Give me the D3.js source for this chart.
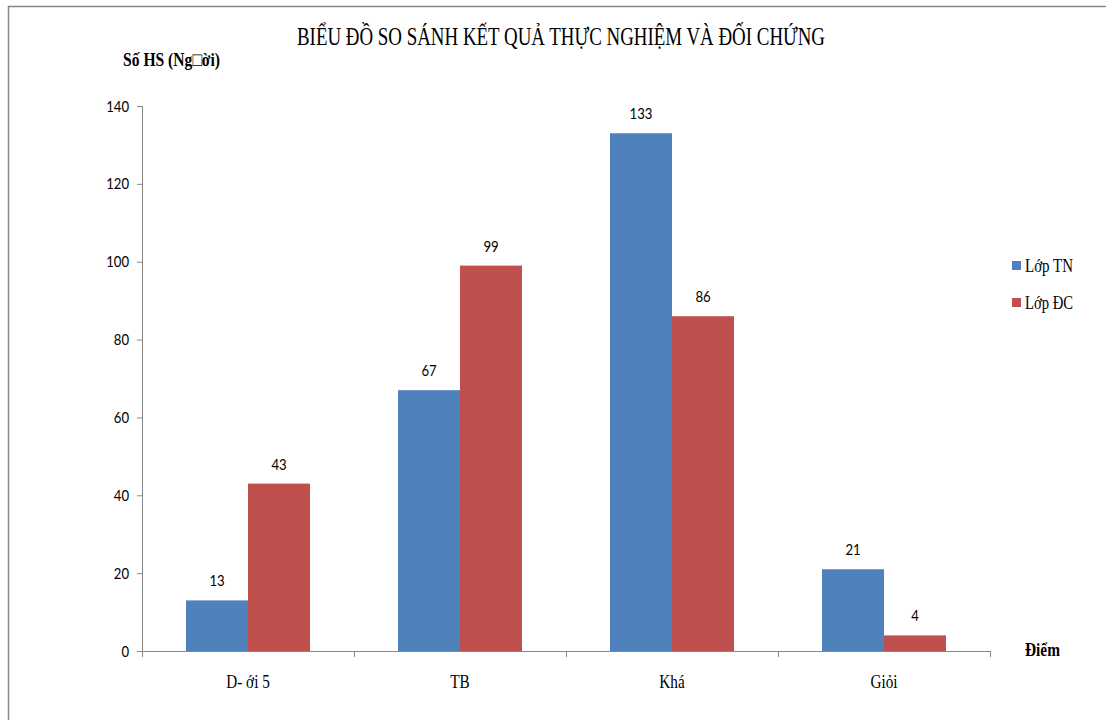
<!DOCTYPE html>
<html><head><meta charset="utf-8">
<script src="https://cdn.jsdelivr.net/npm/d3@7"></script>
<style>body{margin:0;background:#fff}svg{display:block}</style>
</head><body>
<script>
const categories = ["D- ới 5", "TB", "Khá", "Giỏi"];
const seriesNames = ["Lớp TN", "Lớp ĐC"];
const lopTN = [13, 67, 133, 21];
const lopDC = [43, 99, 86, 4];
const yTicks = [0, 20, 40, 60, 80, 100, 120, 140];
const colors = ["#4F81BD", "#C0504D"];

const W = 1106, H = 720;
const svg = d3.select("body").append("svg").attr("width", W).attr("height", H);

function condense(sel, f) {
  sel.each(function () {
    const len = this.getComputedTextLength();
    d3.select(this).attr("textLength", len * f).attr("lengthAdjust", "spacingAndGlyphs");
  });
}

// frame
svg.append("path").attr("d", `M8.5,720 V6.5 H1106`).attr("fill", "none").attr("stroke", "#888").attr("stroke-width", 1.5);

const x0 = 142, x1 = 990, yTop = 106, yBot = 651;
const x = d3.scaleBand().domain(categories).range([x0, x1]).paddingInner(0).paddingOuter(0);
const y = d3.scaleLinear().domain([0, 140]).range([yBot, yTop]);
const groupW = 124;
const xs = d3.scaleBand().domain(seriesNames).range([0, groupW]);

const serif = "'Liberation Serif','Times New Roman',serif";
const sans = "Lato,'Noto Sans',sans-serif";

// y axis
const yAxis = svg.append("g").attr("transform", `translate(${x0},0)`)
  .call(d3.axisLeft(y).tickValues(yTicks).tickSize(5).tickPadding(8));
yAxis.select(".domain").attr("stroke", "#868686").attr("d", `M0.5,${yTop}V${yBot}`);
yAxis.selectAll(".tick line").attr("stroke", "#868686");
yAxis.selectAll(".tick text").attr("font-family", sans).attr("font-size", 16).attr("fill", "#000")
  .call(condense, 0.82);

// x axis
const xAxis = svg.append("g").attr("transform", `translate(0,${yBot})`)
  .call(d3.axisBottom(x).tickSize(0).tickPadding(26));
xAxis.select(".domain").attr("stroke", "#868686").attr("d", `M${x0},0.5H${x1}`);
xAxis.selectAll(".tick text").attr("font-family", serif).attr("font-size", 19).attr("fill", "#000")
  .attr("dy", "0.6em")
  .call(condense, 0.8);
const bounds = categories.map(c => x(c)).concat([x1]);
svg.append("g").selectAll("line").data(bounds).join("line")
  .attr("x1", d => d + 0.5).attr("x2", d => d + 0.5).attr("y1", yBot).attr("y2", yBot + 6)
  .attr("stroke", "#868686");

// bars
const series = [lopTN, lopDC];
series.forEach((vals, si) => {
  const g = svg.append("g");
  g.selectAll("rect").data(vals).join("rect")
    .attr("x", (d, i) => x(categories[i]) + (x.bandwidth() - groupW) / 2 + xs(seriesNames[si]))
    .attr("width", xs.bandwidth())
    .attr("y", d => y(d))
    .attr("height", d => y(0) - y(d))
    .attr("fill", colors[si]);
  g.selectAll("text").data(vals).join("text")
    .attr("x", (d, i) => x(categories[i]) + (x.bandwidth() - groupW) / 2 + xs(seriesNames[si]) + xs.bandwidth() / 2)
    .attr("y", d => y(d) - 14)
    .attr("text-anchor", "middle")
    .attr("font-family", sans).attr("font-size", 16).attr("fill", "#000")
    .text(d => d)
    .call(condense, 0.82);
});

// title
svg.append("text").attr("x", 297).attr("y", 45)
  .attr("font-family", serif).attr("font-size", 25)
  .attr("textLength", 528).attr("lengthAdjust", "spacingAndGlyphs")
  .text("BIỂU ĐỒ SO SÁNH KẾT QUẢ THỰC NGHIỆM VÀ ĐỐI CHỨNG");

// y label
svg.append("text").attr("x", 123).attr("y", 66)
  .attr("font-family", serif).attr("font-size", 19).attr("font-weight", "bold")
  .attr("textLength", 97).attr("lengthAdjust", "spacingAndGlyphs")
  .text("Số HS (Ng□ời)");

// x label
svg.append("text").attr("x", 1025).attr("y", 656)
  .attr("font-family", serif).attr("font-size", 19).attr("font-weight", "bold")
  .attr("textLength", 35).attr("lengthAdjust", "spacingAndGlyphs")
  .text("Điểm");

// legend
const leg = svg.append("g").selectAll("g").data(seriesNames).join("g")
  .attr("transform", (d, i) => `translate(1012,${261 + i * 37})`);
leg.append("rect").attr("width", 9).attr("height", 9).attr("fill", (d, i) => colors[i]);
leg.append("text").attr("x", 13).attr("y", 11)
  .attr("font-family", serif).attr("font-size", 19)
  .attr("textLength", 48).attr("lengthAdjust", "spacingAndGlyphs")
  .text(d => d);
</script>
</body></html>
